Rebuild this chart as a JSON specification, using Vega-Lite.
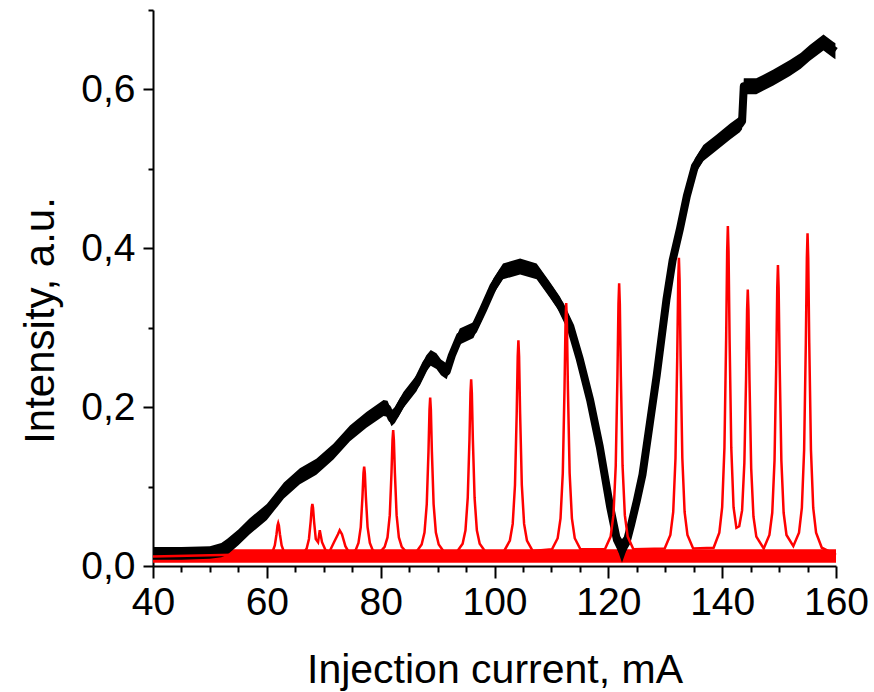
{
  "$schema": "https://vega.github.io/schema/vega-lite/v6.json",
  "width": 683,
  "height": 556,
  "autosize": {"type": "none"},
  "padding": {"left": 153, "top": 10, "right": 38, "bottom": 126},
  "background": "white",
  "config": {
    "view": {"stroke": null},
    "axis": {
      "domainColor": "black", "tickColor": "black", "labelColor": "black", "titleColor": "black",
      "domainWidth": 2, "tickWidth": 2, "grid": false,
      "labelFont": "Liberation Sans", "titleFont": "Liberation Sans",
      "labelFontSize": 39, "titleFontSize": 42, "titleFontWeight": "normal",
      "labelFlush": false, "labelOverlap": false
    }
  },
  "datasets": {
    "band": [
      {"x": 40, "lo": 0.004, "hi": 0.021},
      {"x": 160, "lo": 0.004, "hi": 0.021}
    ],
    "black": [
      {"x": 40, "y": 0.016, "lo": 0.008, "hi": 0.024},
      {"x": 45, "y": 0.016, "lo": 0.008, "hi": 0.024},
      {"x": 50, "y": 0.017, "lo": 0.009, "hi": 0.025},
      {"x": 52, "y": 0.020, "lo": 0.011, "hi": 0.029},
      {"x": 53, "y": 0.024, "lo": 0.014, "hi": 0.034},
      {"x": 55, "y": 0.036, "lo": 0.026, "hi": 0.046},
      {"x": 57, "y": 0.050, "lo": 0.040, "hi": 0.060},
      {"x": 60, "y": 0.068, "lo": 0.058, "hi": 0.078},
      {"x": 62, "y": 0.086, "lo": 0.076, "hi": 0.096},
      {"x": 63, "y": 0.095, "lo": 0.085, "hi": 0.105},
      {"x": 65.8, "y": 0.113, "lo": 0.103, "hi": 0.123},
      {"x": 68.7, "y": 0.125, "lo": 0.115, "hi": 0.135},
      {"x": 71.7, "y": 0.144, "lo": 0.134, "hi": 0.154},
      {"x": 74.6, "y": 0.167, "lo": 0.157, "hi": 0.177},
      {"x": 77.5, "y": 0.184, "lo": 0.174, "hi": 0.194},
      {"x": 80.5, "y": 0.199, "lo": 0.189, "hi": 0.209},
      {"x": 81.2, "y": 0.198, "lo": 0.188, "hi": 0.208},
      {"x": 81.9, "y": 0.186, "lo": 0.176, "hi": 0.196},
      {"x": 82.5, "y": 0.190, "lo": 0.180, "hi": 0.200},
      {"x": 84.0, "y": 0.209, "lo": 0.199, "hi": 0.219},
      {"x": 86.3, "y": 0.230, "lo": 0.220, "hi": 0.240},
      {"x": 88.0, "y": 0.255, "lo": 0.245, "hi": 0.265},
      {"x": 88.8, "y": 0.262, "lo": 0.252, "hi": 0.272},
      {"x": 89.8, "y": 0.258, "lo": 0.248, "hi": 0.268},
      {"x": 90.6, "y": 0.250, "lo": 0.240, "hi": 0.260},
      {"x": 91.6, "y": 0.245, "lo": 0.235, "hi": 0.255},
      {"x": 92.5, "y": 0.265, "lo": 0.255, "hi": 0.275},
      {"x": 93.9, "y": 0.289, "lo": 0.279, "hi": 0.299},
      {"x": 96.3, "y": 0.297, "lo": 0.287, "hi": 0.307},
      {"x": 98.0, "y": 0.323, "lo": 0.313, "hi": 0.333},
      {"x": 99.8, "y": 0.352, "lo": 0.342, "hi": 0.362},
      {"x": 101.5, "y": 0.371, "lo": 0.361, "hi": 0.381},
      {"x": 104.5, "y": 0.377, "lo": 0.367, "hi": 0.387},
      {"x": 107.4, "y": 0.371, "lo": 0.361, "hi": 0.381},
      {"x": 109.7, "y": 0.348, "lo": 0.338, "hi": 0.358},
      {"x": 111.5, "y": 0.329, "lo": 0.319, "hi": 0.339},
      {"x": 113.3, "y": 0.302, "lo": 0.292, "hi": 0.312},
      {"x": 115.0, "y": 0.260, "lo": 0.250, "hi": 0.270},
      {"x": 116.8, "y": 0.209, "lo": 0.199, "hi": 0.219},
      {"x": 118.5, "y": 0.150, "lo": 0.140, "hi": 0.160},
      {"x": 120.3, "y": 0.075, "lo": 0.065, "hi": 0.085},
      {"x": 121.5, "y": 0.033, "lo": 0.023, "hi": 0.043},
      {"x": 122.4, "y": 0.020, "lo": 0.004, "hi": 0.034},
      {"x": 123.2, "y": 0.030, "lo": 0.020, "hi": 0.040},
      {"x": 124.0, "y": 0.052, "lo": 0.042, "hi": 0.062},
      {"x": 125.0, "y": 0.082, "lo": 0.072, "hi": 0.092},
      {"x": 126.0, "y": 0.115, "lo": 0.105, "hi": 0.125},
      {"x": 127.3, "y": 0.180, "lo": 0.170, "hi": 0.190},
      {"x": 128.5, "y": 0.240, "lo": 0.230, "hi": 0.250},
      {"x": 130.2, "y": 0.335, "lo": 0.325, "hi": 0.345},
      {"x": 131.3, "y": 0.385, "lo": 0.375, "hi": 0.395},
      {"x": 132.6, "y": 0.425, "lo": 0.415, "hi": 0.435},
      {"x": 133.8, "y": 0.466, "lo": 0.456, "hi": 0.476},
      {"x": 135.2, "y": 0.503, "lo": 0.493, "hi": 0.513},
      {"x": 136.7, "y": 0.520, "lo": 0.510, "hi": 0.530},
      {"x": 139.0, "y": 0.533, "lo": 0.523, "hi": 0.543},
      {"x": 141.4, "y": 0.547, "lo": 0.537, "hi": 0.557},
      {"x": 143.1, "y": 0.556, "lo": 0.546, "hi": 0.566},
      {"x": 143.5, "y": 0.560, "lo": 0.550, "hi": 0.570},
      {"x": 143.8, "y": 0.604, "lo": 0.594, "hi": 0.614},
      {"x": 146.0, "y": 0.604, "lo": 0.594, "hi": 0.614},
      {"x": 149.0, "y": 0.615, "lo": 0.605, "hi": 0.625},
      {"x": 151.9, "y": 0.627, "lo": 0.617, "hi": 0.637},
      {"x": 153.8, "y": 0.636, "lo": 0.626, "hi": 0.646},
      {"x": 155.4, "y": 0.646, "lo": 0.636, "hi": 0.656},
      {"x": 157.8, "y": 0.659, "lo": 0.649, "hi": 0.669},
      {"x": 159.5, "y": 0.650, "lo": 0.640, "hi": 0.660},
      {"x": 159.9, "y": 0.648, "lo": 0.638, "hi": 0.658}
    ],
    "red": [
      {"x": 40, "y": 0.012},
      {"x": 60.5, "y": 0.015}, {"x": 61.0, "y": 0.018}, {"x": 61.4, "y": 0.026}, {"x": 61.7, "y": 0.040},
      {"x": 61.88, "y": 0.051}, {"x": 62.0, "y": 0.054}, {"x": 62.12, "y": 0.051}, {"x": 62.3, "y": 0.040},
      {"x": 62.6, "y": 0.026}, {"x": 63.0, "y": 0.018}, {"x": 63.5, "y": 0.015},
      {"x": 66.5, "y": 0.017}, {"x": 67.0, "y": 0.022}, {"x": 67.4, "y": 0.034}, {"x": 67.7, "y": 0.056},
      {"x": 67.88, "y": 0.073}, {"x": 68.0, "y": 0.078}, {"x": 68.12, "y": 0.073}, {"x": 68.3, "y": 0.056},
      {"x": 68.6, "y": 0.034}, {"x": 69.0, "y": 0.030}, {"x": 69.3, "y": 0.045}, {"x": 69.7, "y": 0.030},
      {"x": 70.3, "y": 0.020}, {"x": 71.0, "y": 0.018}, {"x": 71.8, "y": 0.030}, {"x": 72.5, "y": 0.040},
      {"x": 72.8, "y": 0.045}, {"x": 73.2, "y": 0.040}, {"x": 73.8, "y": 0.025}, {"x": 74.6, "y": 0.015},
      {"x": 75.6, "y": 0.020}, {"x": 76.1, "y": 0.029}, {"x": 76.5, "y": 0.049}, {"x": 76.8, "y": 0.087},
      {"x": 76.98, "y": 0.117}, {"x": 77.1, "y": 0.125}, {"x": 77.22, "y": 0.117}, {"x": 77.4, "y": 0.087},
      {"x": 77.7, "y": 0.049}, {"x": 78.1, "y": 0.029}, {"x": 78.6, "y": 0.020}, {"x": 79.6, "y": 0.015},
      {"x": 80.7, "y": 0.024}, {"x": 81.2, "y": 0.036}, {"x": 81.6, "y": 0.064}, {"x": 81.9, "y": 0.117},
      {"x": 82.08, "y": 0.159}, {"x": 82.2, "y": 0.171}, {"x": 82.32, "y": 0.159}, {"x": 82.5, "y": 0.117},
      {"x": 82.8, "y": 0.064}, {"x": 83.2, "y": 0.036}, {"x": 83.7, "y": 0.024}, {"x": 84.7, "y": 0.016},
      {"x": 86.2, "y": 0.017}, {"x": 87.2, "y": 0.027}, {"x": 87.7, "y": 0.042}, {"x": 88.1, "y": 0.078},
      {"x": 88.4, "y": 0.144}, {"x": 88.58, "y": 0.197}, {"x": 88.7, "y": 0.212}, {"x": 88.82, "y": 0.197},
      {"x": 89.0, "y": 0.144}, {"x": 89.3, "y": 0.078}, {"x": 89.7, "y": 0.042}, {"x": 90.2, "y": 0.027},
      {"x": 91.2, "y": 0.017},
      {"x": 93.4, "y": 0.018}, {"x": 94.4, "y": 0.028}, {"x": 94.9, "y": 0.045}, {"x": 95.3, "y": 0.086},
      {"x": 95.6, "y": 0.159}, {"x": 95.78, "y": 0.218}, {"x": 95.9, "y": 0.235}, {"x": 96.02, "y": 0.218},
      {"x": 96.2, "y": 0.159}, {"x": 96.5, "y": 0.086}, {"x": 96.9, "y": 0.045}, {"x": 97.4, "y": 0.028},
      {"x": 98.4, "y": 0.018},
      {"x": 101.7, "y": 0.019}, {"x": 102.7, "y": 0.032}, {"x": 103.2, "y": 0.053}, {"x": 103.6, "y": 0.102},
      {"x": 103.9, "y": 0.192}, {"x": 104.08, "y": 0.264}, {"x": 104.2, "y": 0.284}, {"x": 104.32, "y": 0.264},
      {"x": 104.5, "y": 0.192}, {"x": 104.8, "y": 0.102}, {"x": 105.2, "y": 0.053}, {"x": 105.7, "y": 0.032},
      {"x": 106.7, "y": 0.019},
      {"x": 110.1, "y": 0.021}, {"x": 111.1, "y": 0.035}, {"x": 111.6, "y": 0.060}, {"x": 112.0, "y": 0.117},
      {"x": 112.3, "y": 0.223}, {"x": 112.48, "y": 0.307}, {"x": 112.6, "y": 0.331}, {"x": 112.72, "y": 0.307},
      {"x": 112.9, "y": 0.223}, {"x": 113.2, "y": 0.117}, {"x": 113.6, "y": 0.060}, {"x": 114.1, "y": 0.035},
      {"x": 115.1, "y": 0.021},
      {"x": 119.4, "y": 0.021}, {"x": 120.4, "y": 0.037}, {"x": 120.9, "y": 0.064}, {"x": 121.3, "y": 0.126},
      {"x": 121.6, "y": 0.239}, {"x": 121.78, "y": 0.330}, {"x": 121.9, "y": 0.356}, {"x": 122.02, "y": 0.330},
      {"x": 122.2, "y": 0.239}, {"x": 122.5, "y": 0.126}, {"x": 122.9, "y": 0.064}, {"x": 123.4, "y": 0.037},
      {"x": 124.4, "y": 0.021},
      {"x": 129.9, "y": 0.022}, {"x": 130.9, "y": 0.039}, {"x": 131.4, "y": 0.068}, {"x": 131.8, "y": 0.136},
      {"x": 132.1, "y": 0.260}, {"x": 132.28, "y": 0.360}, {"x": 132.4, "y": 0.388}, {"x": 132.52, "y": 0.360},
      {"x": 132.7, "y": 0.260}, {"x": 133.0, "y": 0.136}, {"x": 133.4, "y": 0.068}, {"x": 133.9, "y": 0.039},
      {"x": 134.9, "y": 0.022},
      {"x": 138.5, "y": 0.023}, {"x": 139.5, "y": 0.042}, {"x": 140.0, "y": 0.074}, {"x": 140.4, "y": 0.149},
      {"x": 140.7, "y": 0.287}, {"x": 140.88, "y": 0.397}, {"x": 141.0, "y": 0.428}, {"x": 141.12, "y": 0.397},
      {"x": 141.3, "y": 0.287}, {"x": 141.6, "y": 0.149}, {"x": 142.0, "y": 0.074}, {"x": 142.5, "y": 0.048},
      {"x": 143.0, "y": 0.050}, {"x": 143.5, "y": 0.070}, {"x": 143.9, "y": 0.130}, {"x": 144.2, "y": 0.236},
      {"x": 144.38, "y": 0.323}, {"x": 144.5, "y": 0.348}, {"x": 144.62, "y": 0.323}, {"x": 144.8, "y": 0.234},
      {"x": 145.1, "y": 0.123}, {"x": 145.5, "y": 0.062}, {"x": 146.0, "y": 0.037},
      {"x": 147.3, "y": 0.022}, {"x": 148.3, "y": 0.039}, {"x": 148.8, "y": 0.067}, {"x": 149.2, "y": 0.133},
      {"x": 149.5, "y": 0.254}, {"x": 149.68, "y": 0.351}, {"x": 149.8, "y": 0.379}, {"x": 149.92, "y": 0.351},
      {"x": 150.1, "y": 0.254}, {"x": 150.4, "y": 0.133}, {"x": 150.8, "y": 0.067}, {"x": 151.3, "y": 0.039},
      {"x": 152.5, "y": 0.025}, {"x": 153.5, "y": 0.042}, {"x": 154.0, "y": 0.073}, {"x": 154.4, "y": 0.146},
      {"x": 154.7, "y": 0.281}, {"x": 154.88, "y": 0.388}, {"x": 155.0, "y": 0.419}, {"x": 155.12, "y": 0.388},
      {"x": 155.3, "y": 0.281}, {"x": 155.6, "y": 0.146}, {"x": 156.0, "y": 0.073}, {"x": 156.5, "y": 0.042},
      {"x": 157.5, "y": 0.023}, {"x": 160, "y": 0.014}
    ]
  },
  "resolve": {"scale": {"x": "shared", "y": "shared"}, "axis": {"x": "independent", "y": "independent"}},
  "layer": [
    {
      "data": {"name": "band"},
      "mark": {"type": "area", "color": "#ff0000", "opacity": 1},
      "encoding": {
        "x": {"field": "x", "type": "quantitative", "scale": {"domain": [40, 160], "nice": false, "zero": false},
          "axis": {"orient": "bottom", "values": [40, 60, 80, 100, 120, 140, 160], "tickSize": 12, "labelPadding": 5,
            "title": "Injection current, mA", "titleBaseline": "alphabetic", "titleY": 116, "titleFontSize": 41}},
        "y": {"field": "lo", "type": "quantitative", "scale": {"domain": [0, 0.7], "nice": false, "zero": false},
          "axis": {"orient": "left", "values": [0, 0.2, 0.4, 0.6], "tickSize": 10, "labelPadding": 8,
            "labelExpr": "replace(format(datum.value, '.1f'), '.', ',')",
            "title": "Intensity, a.u.", "titleBaseline": "alphabetic", "titleX": -100, "titleY": 310, "titleAngle": 270, "titleAlign": "center"}},
        "y2": {"field": "hi"}
      }
    },
    {
      "data": {"name": "black"},
      "mark": {"type": "area", "color": "#000000", "opacity": 1},
      "encoding": {
        "x": {"field": "x", "type": "quantitative", "scale": {"domain": [40, 160], "nice": false, "zero": false},
          "axis": {"orient": "bottom", "values": [45, 50, 55, 65, 70, 75, 85, 90, 95, 105, 110, 115, 125, 130, 135, 145, 150, 155],
            "tickSize": 6, "labels": false, "domain": false, "title": null}},
        "y": {"field": "lo", "type": "quantitative", "scale": {"domain": [0, 0.7], "nice": false, "zero": false},
          "axis": {"orient": "left", "values": [0.1, 0.3, 0.5, 0.7], "tickSize": 5, "labels": false, "domain": false, "title": null}},
        "y2": {"field": "hi"}
      }
    },
    {
      "data": {"name": "black"},
      "mark": {"type": "line", "color": "#000000", "strokeWidth": 8, "strokeJoin": "round", "strokeCap": "butt"},
      "encoding": {
        "x": {"field": "x", "type": "quantitative", "scale": {"domain": [40, 160], "nice": false, "zero": false}, "axis": null},
        "y": {"field": "y", "type": "quantitative", "scale": {"domain": [0, 0.7], "nice": false, "zero": false}, "axis": null}
      }
    },
    {
      "data": {"name": "red"},
      "mark": {"type": "line", "color": "#ff0000", "strokeWidth": 2.5, "strokeJoin": "miter"},
      "encoding": {
        "x": {"field": "x", "type": "quantitative", "scale": {"domain": [40, 160], "nice": false, "zero": false}, "axis": null},
        "y": {"field": "y", "type": "quantitative", "scale": {"domain": [0, 0.7], "nice": false, "zero": false}, "axis": null}
      }
    }
  ]
}
